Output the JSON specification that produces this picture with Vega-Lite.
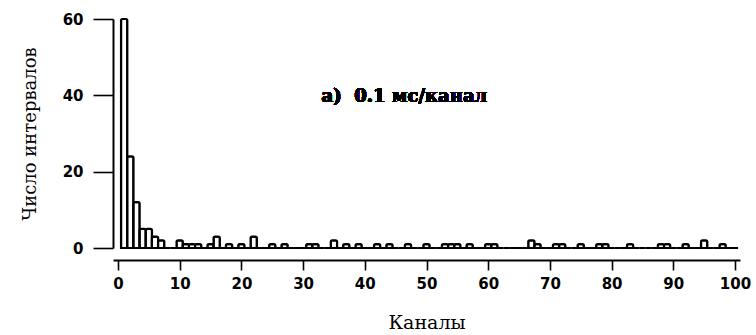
{
  "$schema": "https://vega.github.io/schema/vega-lite/v6.json",
  "width": 627,
  "height": 229,
  "autosize": "none",
  "padding": {"left": 113, "top": 19, "right": 16, "bottom": 87},
  "background": "white",
  "config": {"view": {"stroke": null}},
  "data": {"values": [
    {"channel": 1, "count": 60}, {"channel": 2, "count": 24}, {"channel": 3, "count": 12}, {"channel": 4, "count": 5}, {"channel": 5, "count": 5},
    {"channel": 6, "count": 3}, {"channel": 7, "count": 2}, {"channel": 8, "count": 0}, {"channel": 9, "count": 0}, {"channel": 10, "count": 2},
    {"channel": 11, "count": 1}, {"channel": 12, "count": 1}, {"channel": 13, "count": 1}, {"channel": 14, "count": 0}, {"channel": 15, "count": 1},
    {"channel": 16, "count": 3}, {"channel": 17, "count": 0}, {"channel": 18, "count": 1}, {"channel": 19, "count": 0}, {"channel": 20, "count": 1},
    {"channel": 21, "count": 0}, {"channel": 22, "count": 3}, {"channel": 23, "count": 0}, {"channel": 24, "count": 0}, {"channel": 25, "count": 1},
    {"channel": 26, "count": 0}, {"channel": 27, "count": 1}, {"channel": 28, "count": 0}, {"channel": 29, "count": 0}, {"channel": 30, "count": 0},
    {"channel": 31, "count": 1}, {"channel": 32, "count": 1}, {"channel": 33, "count": 0}, {"channel": 34, "count": 0}, {"channel": 35, "count": 2},
    {"channel": 36, "count": 0}, {"channel": 37, "count": 1}, {"channel": 38, "count": 0}, {"channel": 39, "count": 1}, {"channel": 40, "count": 0},
    {"channel": 41, "count": 0}, {"channel": 42, "count": 1}, {"channel": 43, "count": 0}, {"channel": 44, "count": 1}, {"channel": 45, "count": 0},
    {"channel": 46, "count": 0}, {"channel": 47, "count": 1}, {"channel": 48, "count": 0}, {"channel": 49, "count": 0}, {"channel": 50, "count": 1},
    {"channel": 51, "count": 0}, {"channel": 52, "count": 0}, {"channel": 53, "count": 1}, {"channel": 54, "count": 1}, {"channel": 55, "count": 1},
    {"channel": 56, "count": 0}, {"channel": 57, "count": 1}, {"channel": 58, "count": 0}, {"channel": 59, "count": 0}, {"channel": 60, "count": 1},
    {"channel": 61, "count": 1}, {"channel": 62, "count": 0}, {"channel": 63, "count": 0}, {"channel": 64, "count": 0}, {"channel": 65, "count": 0},
    {"channel": 66, "count": 0}, {"channel": 67, "count": 2}, {"channel": 68, "count": 1}, {"channel": 69, "count": 0}, {"channel": 70, "count": 0},
    {"channel": 71, "count": 1}, {"channel": 72, "count": 1}, {"channel": 73, "count": 0}, {"channel": 74, "count": 0}, {"channel": 75, "count": 1},
    {"channel": 76, "count": 0}, {"channel": 77, "count": 0}, {"channel": 78, "count": 1}, {"channel": 79, "count": 1}, {"channel": 80, "count": 0},
    {"channel": 81, "count": 0}, {"channel": 82, "count": 0}, {"channel": 83, "count": 1}, {"channel": 84, "count": 0}, {"channel": 85, "count": 0},
    {"channel": 86, "count": 0}, {"channel": 87, "count": 0}, {"channel": 88, "count": 1}, {"channel": 89, "count": 1}, {"channel": 90, "count": 0},
    {"channel": 91, "count": 0}, {"channel": 92, "count": 1}, {"channel": 93, "count": 0}, {"channel": 94, "count": 0}, {"channel": 95, "count": 2},
    {"channel": 96, "count": 0}, {"channel": 97, "count": 0}, {"channel": 98, "count": 1}, {"channel": 99, "count": 0}, {"channel": 100, "count": 0}
  ]},
  "layer": [
    {
      "mark": {"type": "bar", "width": 6.27, "fill": "white", "stroke": "black", "strokeWidth": 2.2, "cornerRadiusTopLeft": 1.5, "cornerRadiusTopRight": 1.5},
      "encoding": {
        "x": {
          "field": "channel", "type": "quantitative",
          "scale": {"domain": [0, 100], "nice": false},
          "axis": {
            "values": [0, 5, 10, 15, 20, 25, 30, 35, 40, 45, 50, 55, 60, 65, 70, 75, 80, 85, 90, 95, 100],
            "labelExpr": "datum.value % 10 === 0 ? datum.label : ''",
            "offset": 12,
            "domainColor": "black", "domainWidth": 2,
            "tickColor": "black", "tickWidth": 1.6,
            "tickSize": {"condition": {"test": "datum.value % 10 === 0", "value": 10}, "value": 6},
            "labelFont": "DejaVu Sans", "labelFontWeight": "bold", "labelFontSize": 15, "labelColor": "black",
            "labelPadding": 6,
            "grid": false,
            "title": "Каналы",
            "titleFont": "DejaVu Serif", "titleFontWeight": "normal", "titleFontSize": 19, "titleColor": "black",
            "titlePadding": 22
          }
        },
        "y": {
          "field": "count", "type": "quantitative",
          "scale": {"domain": [0, 60], "nice": false},
          "axis": {
            "values": [0, 10, 20, 30, 40, 50, 60],
            "labelExpr": "datum.value % 20 === 0 ? datum.label : ''",
            "domainColor": "black", "domainWidth": 2,
            "tickColor": "black", "tickWidth": 1.6,
            "tickSize": {"condition": {"test": "datum.value % 20 === 0", "value": 20}, "value": 11},
            "labelFont": "DejaVu Sans", "labelFontWeight": "bold", "labelFontSize": 15, "labelColor": "black",
            "labelPadding": 10,
            "grid": false,
            "title": "Число интервалов",
            "titleFont": "DejaVu Serif", "titleFontWeight": "normal", "titleFontSize": 18, "titleColor": "black",
            "titlePadding": 23
          }
        }
      }
    },
    {
      "mark": {"type": "text", "align": "left", "baseline": "middle", "font": "DejaVu Serif", "fontWeight": "bold", "fontSize": 18, "color": "black"},
      "encoding": {
        "x": {"datum": 33},
        "y": {"datum": 39.6},
        "text": {"value": "а)\u00a0\u00a00.1 мс/канал"}
      }
    }
  ]
}
